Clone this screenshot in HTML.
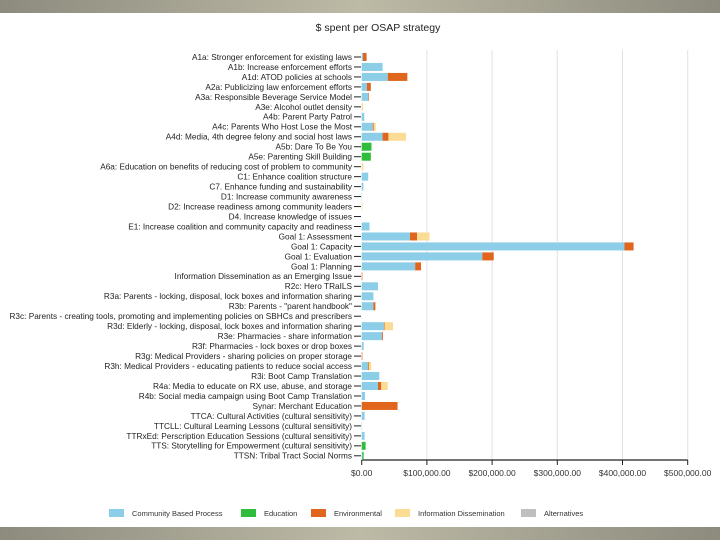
<!DOCTYPE html>
<html><head><meta charset="utf-8"><style>
body{margin:0;width:720px;height:540px;background:#fff;overflow:hidden;font-family:"Liberation Sans",sans-serif}
.band{position:absolute;left:0;width:720px;height:13px;background:linear-gradient(90deg,#8d8b7e,#bdbaa6 50%,#8d8b7e)}
</style></head><body>
<div class="band" style="top:0"></div>
<div class="band" style="top:527px"></div>
<svg id="c" width="720" height="540" style="position:absolute;left:0;top:0"></svg>
<script>
const categories=["A1a: Stronger enforcement for existing laws","A1b: Increase enforcement efforts","A1d: ATOD policies at schools","A2a: Publicizing law enforcement efforts","A3a: Responsible Beverage Service Model","A3e: Alcohol outlet density","A4b: Parent Party Patrol","A4c: Parents Who Host Lose the Most","A4d: Media, 4th degree felony and social host laws","A5b: Dare To Be You","A5e: Parenting Skill Building","A6a: Education on benefits of reducing cost of problem to community","C1: Enhance coalition structure","C7. Enhance funding and sustainability","D1: Increase community awareness","D2: Increase readiness among community leaders","D4. Increase knowledge of issues","E1: Increase coalition and community capacity and readiness","Goal 1: Assessment","Goal 1: Capacity","Goal 1: Evaluation","Goal 1: Planning","Information Dissemination as an Emerging Issue","R2c: Hero TRaILS","R3a: Parents - locking, disposal, lock boxes and information sharing","R3b: Parents - \"parent handbook\"","R3c: Parents - creating tools, promoting and implementing policies on SBHCs and prescribers","R3d: Elderly - locking, disposal, lock boxes and information sharing","R3e: Pharmacies - share information","R3f: Pharmacies - lock boxes or drop boxes","R3g: Medical Providers - sharing policies on proper storage","R3h: Medical Providers - educating patients to reduce social access","R3i: Boot Camp Translation","R4a: Media to educate on RX use, abuse, and storage","R4b: Social media campaign using Boot Camp Translation","Synar: Merchant Education","TTCA: Cultural Activities (cultural sensitivity)","TTCLL: Cultural Learning Lessons (cultural sensitivity)","TTRxEd: Perscription Education Sessions (cultural sensitivity)","TTS: Storytelling for Empowerment (cultural sensitivity)","TTSN: Tribal Tract Social Norms"];
const cbp=[2000,32000,40000,8000,10000,0,4000,17000,32000,0,0,0,10000,2500,500,0,0,12000,74000,403000,185000,82000,0,25000,18000,18000,0,34000,31000,3000,0,9500,27000,25000,5000,0,4500,500,4500,0,1000];
const edu=[0,0,0,0,0,0,0,0,0,15000,14000,0,0,0,0,0,0,0,0,0,0,0,0,0,0,0,0,0,0,0,0,0,0,0,0,0,0,0,0,6000,2000];
const env=[5500,0,30000,6000,1000,0,0,1500,9000,0,0,0,0,0,0,0,0,0,11000,14000,17500,9000,1000,0,0,3000,0,1000,1500,0,1000,1500,0,5000,0,55000,0,0,0,0,0];
const info=[0,0,0,0,0,2000,0,3000,27000,0,0,2500,0,0,0,1000,0,0,19000,0,0,0,0,0,0,0,0,13000,0,0,0,3500,0,10000,0,0,0,0,0,0,0];
const alt=new Array(41).fill(0);
const ticks=[0,100000,200000,300000,400000,500000];
const tickLabels=["$0.00","$100,000.00","$200,000.00","$300,000.00","$400,000.00","$500,000.00"];
const seriesNames=["Community Based Process","Education","Environmental","Information Dissemination","Alternatives"];
const colors=["#8ccde8","#2fbd3b","#e0661e","#fbdc95","#bfbfbf"];
const svg=document.getElementById('c');const NS="http://www.w3.org/2000/svg";
const x=v=>361.7+v*65.2/100000;const y=i=>57+i*9.97;
function mk(t,a,p){const e=document.createElementNS(NS,t);for(const k in a)e.setAttribute(k,a[k]);(p||svg).appendChild(e);return e;}
let t=mk('text',{x:378,y:31,'text-anchor':'middle','font-size':'10.5','fill':'#222'});t.textContent="$ spent per OSAP strategy";


ticks.forEach((v,i)=>{if(i>0){let g=mk('line',{x1:x(v),x2:x(v),y1:50,y2:460,stroke:'#e2e2e2','stroke-width':1});

}
let tk=mk('line',{x1:x(v),x2:x(v),y1:460,y2:465,stroke:'#222'});


let l=mk('text',{x:x(v),y:476,'text-anchor':'middle','font-size':'8.5','fill':'#333'});l.textContent=tickLabels[i];

});
let ax=mk('line',{x1:x(0),x2:x(500000),y1:460,y2:460,stroke:'#222','stroke-width':1.3});


const series=[cbp,edu,env,info,alt];
categories.forEach((c,i)=>{const cy=y(i);
let tl=mk('line',{x1:354,x2:361,y1:cy,y2:cy,stroke:'#222'});


let lb=mk('text',{x:352,y:cy+2.9,'text-anchor':'end','font-size':'8.25','fill':'#222'});lb.textContent=c;


let acc=0;series.forEach((s,k)=>{const v=s[i];if(v>0){let r=mk('rect',{x:x(acc),y:cy-4,width:x(acc+v)-x(acc),height:8,fill:colors[k]});


acc+=v;}});});
let lx=[109,241,311,395,521];
seriesNames.forEach((n,k)=>{let r=mk('rect',{x:lx[k],y:509,width:15,height:8,fill:colors[k]});


let tx=mk('text',{x:lx[k]+23,y:516,'font-size':'7.5','fill':'#333'});tx.textContent=n;

});
</script>
</body></html>
